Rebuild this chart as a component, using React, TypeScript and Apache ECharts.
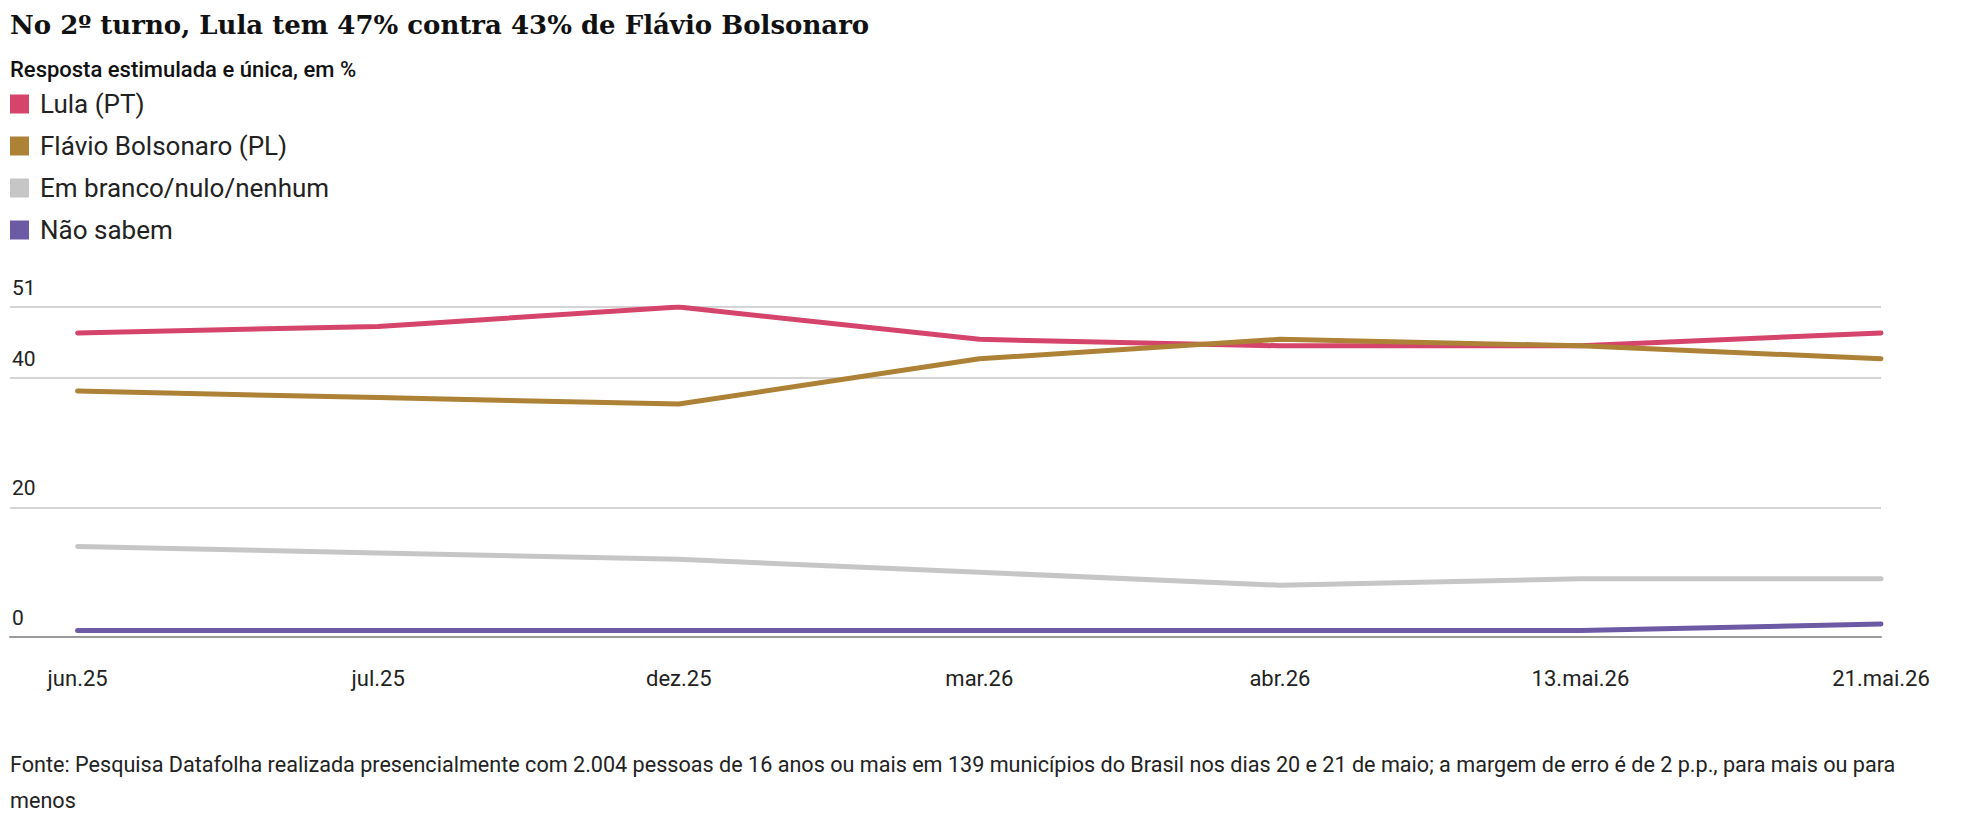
import React, { useEffect, useRef } from "react";
import * as echarts from "echarts";

const categories = ["jun.25", "jul.25", "dez.25", "mar.26", "abr.26", "13.mai.26", "21.mai.26"];
const lula = [47, 48, 51, 46, 45, 45, 47];
const flavio = [38, 37, 36, 43, 46, 45, 43];
const branco = [14, 13, 12, 10, 8, 9, 9];
const naoSabem = [1, 1, 1, 1, 1, 1, 2];
const yTicks = [0, 20, 40, 51];
const seriesNames = ["Lula (PT)", "Flávio Bolsonaro (PL)", "Em branco/nulo/nenhum", "Não sabem"];
const seriesColors = ["#d5446b", "#ad8136", "#c6c6c6", "#6d5aa5"];

const titleText = "No 2º turno, Lula tem 47% contra 43% de Flávio Bolsonaro";
const subtitleText = "Resposta estimulada e única, em %";
const sourceText =
  "Fonte: Pesquisa Datafolha realizada presencialmente com 2.004 pessoas de 16 anos ou mais em 139 municípios do Brasil nos dias 20 e 21 de maio; a margem de erro é de 2 p.p., para mais ou para\nmenos";

const SANS = "Roboto, 'Noto Sans', sans-serif";

export default function App() {
  const ref = useRef<HTMLDivElement>(null);
  useEffect(() => {
    document.body.style.margin = "0";
    if (!ref.current) return;
    const chart = echarts.init(ref.current, undefined, { renderer: "svg" });
    const allData = [lula, flavio, branco, naoSabem];
    chart.setOption({
      animation: false,
      backgroundColor: "#ffffff",
      title: [
        {
          text: titleText,
          left: 10,
          top: 12,
          padding: 0,
          textStyle: { fontFamily: "'DejaVu Serif', serif", fontWeight: "bold", fontSize: 26, color: "#111" },
        },
        {
          text: subtitleText,
          left: 10,
          top: 58,
          padding: 0,
          textStyle: { fontFamily: SANS, fontWeight: 500, fontSize: 22, color: "#111" },
        },
        {
          text: sourceText,
          left: 10,
          top: 746,
          padding: 0,
          textStyle: { fontFamily: SANS, fontWeight: "normal", fontSize: 21.6, color: "#222", lineHeight: 36.5 },
        },
      ],
      legend: {
        orient: "vertical",
        left: 10,
        top: 91,
        padding: 0,
        itemWidth: 19,
        itemHeight: 19,
        itemGap: 16,
        icon: "rect",
        data: seriesNames,
        textStyle: { fontFamily: SANS, fontSize: 26, color: "#222", padding: [0, 0, 0, 6] },
      },
      grid: { left: 10, right: 81, top: 307, bottom: 185, containLabel: false },
      xAxis: {
        type: "value",
        min: -0.225,
        max: categories.length - 1,
        z: 5,
        axisLine: { show: true, lineStyle: { color: "#9a9a9a", width: 2 } },
        axisTick: { show: false, customValues: categories.map((_, i) => i) },
        splitLine: { show: false },
        axisLabel: {
          customValues: categories.map((_, i) => i),
          formatter: (v: number) => categories[Math.round(v)] ?? "",
          fontFamily: SANS,
          fontSize: 22,
          color: "#222",
          margin: 30,
        },
      },
      yAxis: {
        type: "value",
        min: 0,
        max: 51,
        axisLine: { show: false },
        axisTick: { show: false, customValues: yTicks },
        splitLine: { show: true, lineStyle: { color: "#d4d4d4", width: 2 } },
        axisLabel: {
          customValues: yTicks,
          inside: true,
          margin: 2,
          verticalAlign: "bottom",
          padding: [0, 0, 9, 0],
          fontFamily: SANS,
          fontSize: 21,
          color: "#222",
        },
      },
      series: seriesNames.map((name, s) => ({
        name,
        type: "line",
        data: allData[s].map((v, i) => [i, v]),
        showSymbol: false,
        symbol: "none",
        color: seriesColors[s],
        lineStyle: { width: 5, color: seriesColors[s], cap: "round", join: "round" },
        z: 10 + s,
      })),
    });
    return () => chart.dispose();
  }, []);
  return <div ref={ref} style={{ position: "fixed", left: 0, top: 0, width: 1962, height: 822 }} />;
}
